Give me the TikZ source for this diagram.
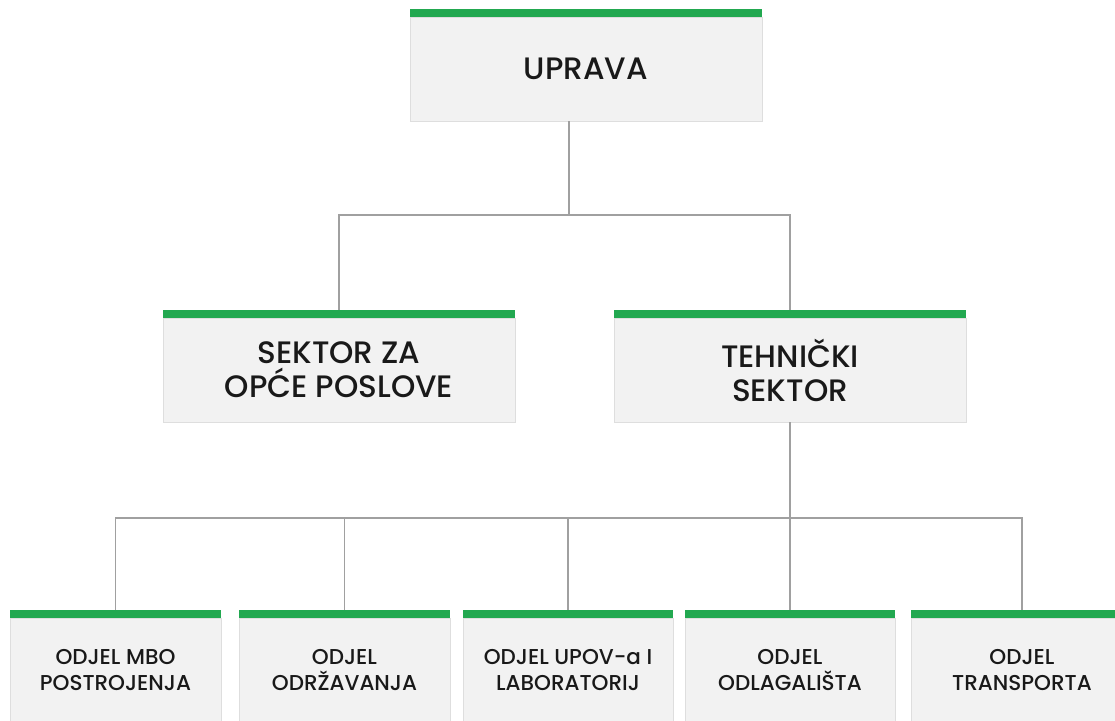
\documentclass[tikz,border=0pt]{standalone}
\usepackage{fontspec}
\setmainfont{Poppins}[UprightFont={* Medium}]
\definecolor{bargreen}{RGB}{34,168,80}
\definecolor{boxfill}{RGB}{242,242,242}
\definecolor{boxline}{RGB}{222,222,222}
\definecolor{linegray}{RGB}{160,160,160}
\definecolor{txt}{RGB}{25,25,25}
\tikzset{
  unitbox/.style={draw=boxline, fill=boxfill, line width=0.8pt, anchor=north west,
    minimum height=104pt, inner sep=2pt, outer sep=0pt, align=center, text=txt},
  bigbox/.style={unitbox, minimum width=352pt, font=\fontsize{31}{34}\selectfont},
  smallbox/.style={unitbox, font=\fontsize{21.5}{26}\selectfont},
  conn/.style={draw=linegray, line width=1.1pt},
  bar/.style={fill=bargreen}
}
\begin{document}
\begin{tikzpicture}[x=1pt,y=-1pt]
\useasboundingbox (0,0) rectangle (1115,720);
% boxes
\node[bigbox] (up) at (410,17) {UPRAVA};
\node[bigbox] (sz) at (163,318) {SEKTOR ZA\\OPĆE POSLOVE};
\node[bigbox] (ts) at (614,318) {TEHNIČKI\\SEKTOR};
\node[smallbox, minimum width=211pt] (o1) at (10,618) {ODJEL MBO\\POSTROJENJA};
\node[smallbox, minimum width=211pt] (o2) at (239,618) {ODJEL\\ODRŽAVANJA};
\node[smallbox, minimum width=210pt] (o3) at (463,618) {ODJEL UPOV-a I\\LABORATORIJ};
\node[smallbox, minimum width=210pt] (o4) at (685,618) {ODJEL\\ODLAGALIŠTA};
\node[smallbox, minimum width=222pt] (o5) at (911,618) {ODJEL\\TRANSPORTA};
% green bars
\foreach \n in {up,sz,ts,o1,o2,o3,o4,o5}{
  \fill[bar] ([yshift=-0.4pt]\n.north west) rectangle ([yshift=8pt]\n.north east);
}
% connectors
\coordinate (u0) at (569,0 |- up.south);
\coordinate (j1) at (569,215);
\coordinate (j2) at (ts.south |- 0,518);
\draw[conn] (u0) -- (j1);
\draw[conn] ([yshift=8pt]sz.north) |- (j1) -| ([yshift=8pt]ts.north);
\draw[conn] (ts.south) -- (j2);
\draw[conn] ([yshift=8pt]o1.north) |- (j2) -| ([yshift=8pt]o5.north);
\draw[conn] ([yshift=8pt]o2.north) -- (o2.north |- j2);
\draw[conn] ([yshift=8pt]o3.north) -- (o3.north |- j2);
\draw[conn] ([yshift=8pt]o4.north) -- (o4.north |- j2);
\end{tikzpicture}
\end{document}
